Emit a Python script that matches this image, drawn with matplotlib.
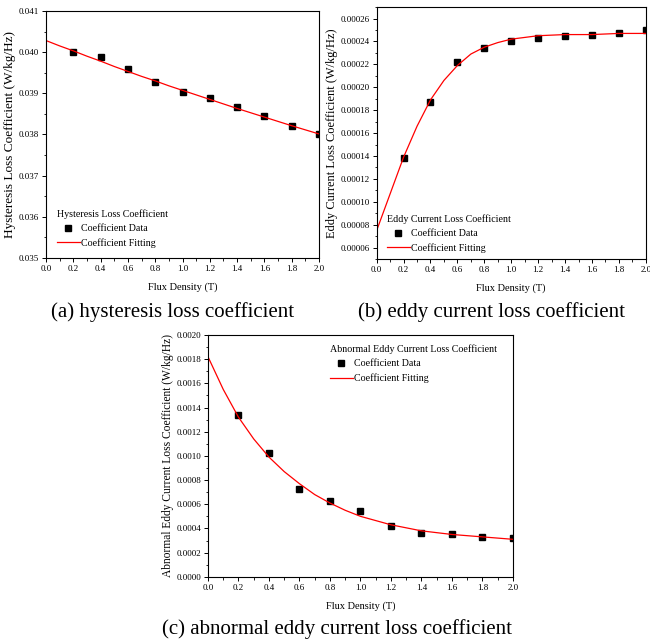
"""
Three panels of loss coefficients against flux density, with fitted curves.
"""
import matplotlib
matplotlib.use("Agg")
import matplotlib.pyplot as plt
from matplotlib.ticker import MultipleLocator, FormatStrFormatter

# Data ------------------------------------------------------------------------

flux = [0.2, 0.4, 0.6, 0.8, 1.0, 1.2, 1.4, 1.6, 1.8, 2.0]
fit_flux = [0.0, 0.1, 0.2, 0.3, 0.4, 0.5, 0.6, 0.7, 0.8, 0.9, 1.0,
            1.2, 1.4, 1.6, 1.8, 2.0]

hyst_data = [0.04000, 0.03987, 0.03958, 0.03928, 0.03904,
             0.03889, 0.03867, 0.03844, 0.03821, 0.03800]
hyst_fit = [0.04028, 0.04015, 0.04003, 0.03990, 0.03978, 0.03965, 0.03953,
            0.03941, 0.03930, 0.03918, 0.03907, 0.03885, 0.03863, 0.03842,
            0.03821, 0.03801]

eddy_data = [0.000138, 0.000187, 0.000222, 0.000234, 0.000240,
             0.000243, 0.000245, 0.000246, 0.000247, 0.000250]
eddy_fit = [0.000075, 0.000107, 0.000139, 0.000166, 0.000189, 0.000206,
            0.000219, 0.000229, 0.000235, 0.000239, 0.000242, 0.000245,
            0.000246, 0.000246, 0.000247, 0.000247]

abn_data = [0.00134, 0.00102, 0.00073, 0.00063, 0.00054,
            0.00042, 0.00036, 0.00035, 0.00033, 0.00032]
abn_fit = [0.00182, 0.00155, 0.00132, 0.00114, 0.00099, 0.00087, 0.00077,
           0.00068, 0.00061, 0.00055, 0.00050, 0.00043, 0.00038, 0.00035,
           0.00033, 0.00031]

# Style -----------------------------------------------------------------------

plt.rcParams["font.family"] = ["Liberation Serif", "DejaVu Serif"]
plt.rcParams["font.size"] = 7


def draw_panel(ax, data, fit, ylim, ymajor, yfmt, ylabel, ylabel_size,
               title, legend_loc, legend_anchor):
    ax.plot(flux, data, "s", color="black", markersize=4.5,
            label="Coefficient Data")
    ax.plot(fit_flux, fit, "-", color="red", linewidth=0.9,
            label="Coefficient Fitting")
    ax.set_xlim(0.0, 2.0)
    ax.set_ylim(*ylim)
    ax.xaxis.set_major_locator(MultipleLocator(0.2))
    ax.xaxis.set_minor_locator(MultipleLocator(0.1))
    ax.xaxis.set_major_formatter(FormatStrFormatter("%.1f"))
    ax.yaxis.set_major_locator(MultipleLocator(ymajor))
    ax.yaxis.set_minor_locator(MultipleLocator(ymajor / 2))
    ax.yaxis.set_major_formatter(FormatStrFormatter(yfmt))
    ax.tick_params(which="major", direction="out", length=3, width=0.7,
                   labelsize=6.5, pad=2)
    ax.tick_params(which="minor", direction="out", length=1.8, width=0.6)
    for sp in ax.spines.values():
        sp.set_linewidth(0.8)
    ax.set_xlabel("Flux Density (T)", fontsize=7.5, labelpad=7)
    ax.set_ylabel(ylabel, fontsize=ylabel_size, labelpad=2)
    leg = ax.legend(title=title, loc=legend_loc, bbox_to_anchor=legend_anchor,
                    frameon=False, fontsize=7.2, title_fontsize=7.2,
                    handlelength=2.3, handletextpad=0.15, borderaxespad=0,
                    borderpad=0, labelspacing=0.5)
    leg._legend_box.align = "left"


fig = plt.figure(figsize=(6.5, 6.43), dpi=100)

ax_a = fig.add_axes([0.0708, 0.599, 0.420, 0.384])
draw_panel(ax_a, hyst_data, hyst_fit, (0.035, 0.041), 0.001, "%.3f",
           "Hysteresis Loss Coefficient (W/kg/Hz)", 9.5,
           "Hysteresis Loss Coefficient", "lower left", (0.04, 0.04))

ax_b = fig.add_axes([0.5795, 0.597, 0.414, 0.392])
draw_panel(ax_b, eddy_data, eddy_fit, (0.00005, 0.00027), 0.00002, "%.5f",
           "Eddy Current Loss Coefficient (W/kg/Hz)", 8.9,
           "Eddy Current Loss Coefficient", "lower left", (0.037, 0.025))

ax_c = fig.add_axes([0.320, 0.103, 0.469, 0.376])
draw_panel(ax_c, abn_data, abn_fit, (0.0, 0.002), 0.0002, "%.4f",
           "Abnormal Eddy Current Loss Coefficient (W/kg/Hz)", 8.3,
           "Abnormal Eddy Current Loss Coefficient", "upper right",
           (0.948, 0.96))

fig.text(0.265, 0.515, "(a) hysteresis loss coefficient", fontsize=15,
         ha="center", va="center")
fig.text(0.756, 0.515, "(b) eddy current loss coefficient", fontsize=15,
         ha="center", va="center")
fig.text(0.519, 0.021, "(c) abnormal eddy current loss coefficient",
         fontsize=15, ha="center", va="center")

fig.savefig("out.png", dpi=100)
